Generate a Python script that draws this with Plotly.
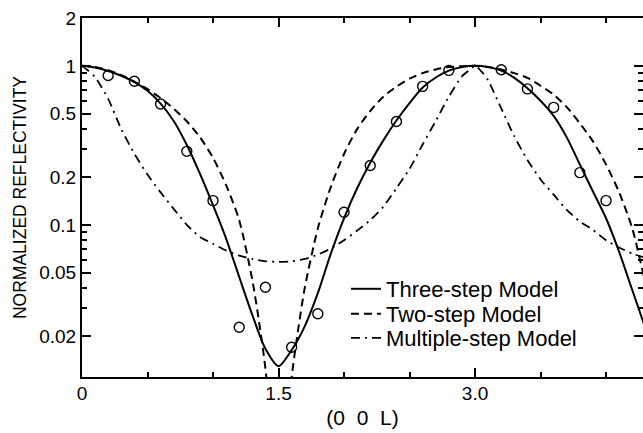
import plotly.graph_objects as go

# Model curves: normalized reflectivity along (0 0 L)
L_three = [0.0, 0.1, 0.2, 0.3, 0.4, 0.5, 0.6, 0.7, 0.8, 0.9, 1.0, 1.1, 1.2, 1.3, 1.4,
           1.5, 1.6, 1.7, 1.8, 1.9, 2.0, 2.1, 2.2, 2.3, 2.4, 2.5, 2.6, 2.7, 2.8, 2.9,
           3.0, 3.1, 3.2, 3.3, 3.4, 3.5, 3.6, 3.7, 3.8, 3.9, 4.0, 4.1, 4.2, 4.3]
R_three = [1.0, 0.975, 0.929, 0.867, 0.79, 0.697, 0.579, 0.45, 0.318, 0.21, 0.133, 0.082, 0.047, 0.0271, 0.0166,
           0.0129, 0.0163, 0.023, 0.0372, 0.0662, 0.11, 0.17, 0.246, 0.34, 0.453, 0.583, 0.73, 0.845, 0.933, 0.982,
           1.0, 0.982, 0.933, 0.841, 0.724, 0.603, 0.484, 0.355, 0.24, 0.162, 0.11, 0.0676, 0.0389, 0.0224]

L_two = [0.0, 0.1, 0.2, 0.3, 0.4, 0.5, 0.6, 0.7, 0.8, 0.9, 1.0, 1.1, 1.2, 1.3, 1.35, 1.4, 1.45,
         1.5, 1.55, 1.6, 1.65, 1.7, 1.8, 1.9, 2.0, 2.1, 2.2, 2.3, 2.4, 2.5, 2.6, 2.7, 2.8, 2.9,
         3.0, 3.1, 3.2, 3.3, 3.4, 3.5, 3.6, 3.7, 3.8, 3.9, 4.0, 4.1, 4.2, 4.3]
R_two = [1.0, 0.984, 0.94, 0.873, 0.796, 0.713, 0.627, 0.538, 0.448, 0.356, 0.264, 0.178, 0.107, 0.045, 0.025, 0.0125, 0.0045,
         0.002, 0.0045, 0.011, 0.022, 0.040, 0.095, 0.174, 0.279, 0.40, 0.52, 0.64, 0.74, 0.83, 0.90, 0.95, 0.982, 0.995,
         1.0, 0.985, 0.95, 0.90, 0.84, 0.75, 0.66, 0.55, 0.435, 0.335, 0.24, 0.16, 0.095, 0.043]

L_multi = [0.0, 0.05, 0.1, 0.2, 0.3, 0.4, 0.5, 0.6, 0.7, 0.8, 0.9, 1.0, 1.1, 1.2, 1.3, 1.4,
           1.5, 1.6, 1.7, 1.8, 1.9, 2.0, 2.1, 2.2, 2.3, 2.4, 2.5, 2.6, 2.7, 2.8, 2.9, 2.95,
           3.0, 3.05, 3.1, 3.2, 3.3, 3.4, 3.5, 3.6, 3.7, 3.8, 3.9, 4.0, 4.1, 4.2, 4.3]
R_multi = [1.0, 0.93, 0.85, 0.62, 0.40, 0.28, 0.207, 0.16, 0.126, 0.10, 0.084, 0.076, 0.069, 0.064, 0.061, 0.059,
           0.0585, 0.059, 0.061, 0.065, 0.071, 0.08, 0.092, 0.107, 0.13, 0.17, 0.225, 0.32, 0.45, 0.64, 0.86, 0.93,
           1.0, 0.92, 0.81, 0.54, 0.36, 0.256, 0.193, 0.155, 0.124, 0.105, 0.093, 0.080, 0.072, 0.066, 0.062]

# Measured reflectivity
L_meas = [0.2, 0.4, 0.6, 0.8, 1.0, 1.2, 1.4, 1.6, 1.8, 2.0, 2.2, 2.4, 2.6, 2.8, 3.2, 3.4, 3.6, 3.8, 4.0]
R_meas = [0.87, 0.80, 0.576, 0.29, 0.142, 0.0227, 0.0405, 0.017, 0.0276, 0.12, 0.236, 0.447, 0.743, 0.937,
          0.946, 0.716, 0.548, 0.213, 0.142]

x_ticks = [0, 1.5, 3.0]
x_ticklabels = ["0", "1.5", "3.0"]
x_minor = [0.5, 1.0, 2.0, 2.5, 3.5, 4.0]
y_ticks = [0.02, 0.05, 0.1, 0.2, 0.5, 1, 2]
y_ticklabels = ["0.02", "0.05", "0.1", "0.2", "0.5", "1", "2"]
y_minor = [0.03, 0.04, 0.06, 0.07, 0.08, 0.09, 0.3, 0.4, 0.6, 0.7, 0.8, 0.9]

FONT = "Liberation Sans, Arial, sans-serif"
Y_RANGE = [-1.957, 0.301]

fig = go.Figure()
fig.add_trace(go.Scatter(
    x=L_meas, y=R_meas, mode="markers", showlegend=False,
    marker=dict(symbol="circle-open", size=10, color="black", line=dict(width=1.4)),
))
fig.add_trace(go.Scatter(
    x=L_three, y=R_three, mode="lines", name="Three-step Model", legend="legend",
    line=dict(color="black", width=2, shape="spline", smoothing=0.7),
))
fig.add_trace(go.Scatter(
    x=L_two, y=R_two, mode="lines", name="Two-step Model", legend="legend2",
    line=dict(color="black", width=2, dash="8px,5px", shape="spline", smoothing=0.7),
))
fig.add_trace(go.Scatter(
    x=L_multi, y=R_multi, mode="lines", name="Multiple-step Model", legend="legend3",
    line=dict(color="black", width=1.8, dash="9px,5px,2px,5px", shape="spline", smoothing=0.6),
))
# empty trace that carries the right-hand tick axis
fig.add_trace(go.Scatter(x=[], y=[], yaxis="y2", showlegend=False, hoverinfo="skip"))

tick_common = dict(ticks="inside", tickcolor="black", tickwidth=1.5, showgrid=False, zeroline=False)
legend_common = dict(x=0.4706, xanchor="left", yanchor="middle", bgcolor="rgba(0,0,0,0)",
                     borderwidth=0, font=dict(size=22, family=FONT))

fig.update_layout(
    width=643, height=433, autosize=False,
    margin=dict(l=82, r=0, t=18, b=56),
    paper_bgcolor="white", plot_bgcolor="white",
    font=dict(family=FONT, color="black"),
    xaxis=dict(
        range=[0, 4.282], showline=True, linecolor="black", linewidth=2, mirror="ticks",
        tickmode="array", tickvals=x_ticks, ticktext=x_ticklabels, ticklen=9,
        tickfont=dict(size=19, family=FONT), ticklabelstandoff=-2,
        minor=dict(tickmode="array", tickvals=x_minor, ticks="inside", ticklen=5,
                   tickcolor="black", tickwidth=1.5, showgrid=False),
        title=dict(text="(0\u00a0\u00a00\u00a0\u00a0L)", font=dict(size=21, family=FONT), standoff=8),
        **tick_common,
    ),
    yaxis=dict(
        type="log", range=Y_RANGE, showline=True, linecolor="black", linewidth=2,
        tickmode="array", tickvals=y_ticks, ticktext=y_ticklabels, ticklen=9,
        tickfont=dict(size=19, family=FONT),
        minor=dict(tickmode="array", tickvals=y_minor, ticks="inside", ticklen=5,
                   tickcolor="black", tickwidth=1.5, showgrid=False),
        title=dict(text="NORMALIZED REFLECTIVITY", font=dict(size=17.5, family=FONT), standoff=8),
        **tick_common,
    ),
    yaxis2=dict(
        type="log", range=Y_RANGE, overlaying="y", side="right", showline=False,
        tickmode="array", tickvals=y_ticks, ticklen=9, showticklabels=False,
        minor=dict(tickmode="array", tickvals=y_minor, ticks="inside", ticklen=5,
                   tickcolor="black", tickwidth=1.5, showgrid=False),
        **tick_common,
    ),
    legend=dict(y=0.2451, **legend_common),
    legend2=dict(y=0.1755, **legend_common),
    legend3=dict(y=0.1086, **legend_common),
)

fig.write_html("out.html")
